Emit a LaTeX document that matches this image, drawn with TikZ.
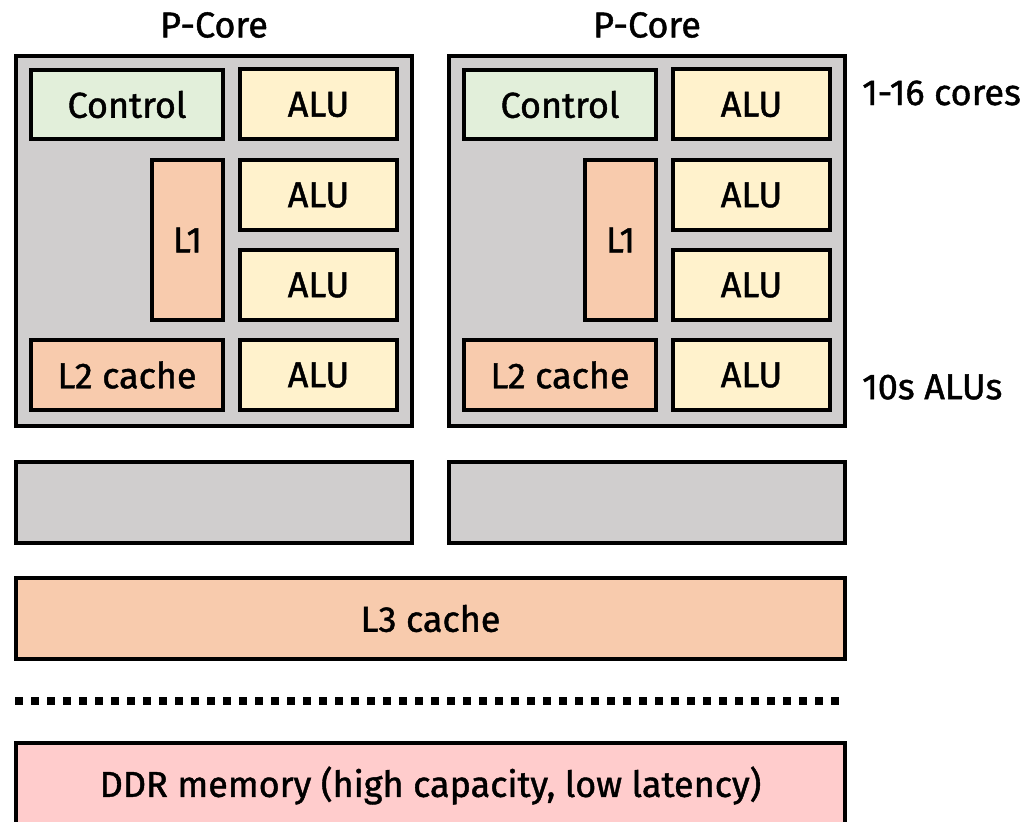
\documentclass[tikz,border=0pt]{standalone}
\usepackage{fontspec}
\setmainfont{Fira Sans}[BoldFont=Fira Sans, BoldFeatures={FakeBold=1.2}]
\definecolor{coregray}{HTML}{D0CECE}
\definecolor{ctrlgreen}{HTML}{E2EFDA}
\definecolor{alucol}{HTML}{FFF2CC}
\definecolor{cachecol}{HTML}{F8CBAD}
\definecolor{ddrcol}{HTML}{FFCCCC}
\begin{document}
\begin{tikzpicture}[x=1pt,y=-1pt,
  blk/.style={draw=black, line width=4pt, inner sep=0pt, font=\fontsize{36}{42}\selectfont\bfseries},
  lbl/.style={inner sep=0pt, font=\fontsize{36}{42}\selectfont\bfseries},
  corebox/.style={blk, fill=coregray, minimum width=396pt, minimum height=370pt},
  ctrlbox/.style={blk, fill=ctrlgreen, minimum width=192pt, minimum height=69pt},
  alubox/.style={blk, fill=alucol, minimum width=157pt, minimum height=70pt},
  l2box/.style={blk, fill=cachecol, minimum width=192pt, minimum height=70pt},
  l1box/.style={blk, fill=cachecol, minimum width=71pt, minimum height=160pt},
  barbox/.style={blk, fill=coregray, minimum width=396pt, minimum height=81pt},
  widebox/.style={blk, minimum width=829pt, minimum height=81pt}]
\useasboundingbox (0,0) rectangle (1032,821);
\clip (0,0) rectangle (1032,821);
% core 1
\node[corebox] (core1) at (214,241) {};
\node[ctrlbox] (ctrl1) at (127,104.5) {Control};
\node[alubox] (alu1a) at (318.5,104.5) {ALU};
\node[l1box] (l11) at (187.5,240) {L1};
\node[alubox] (alu1b) at (318.5,195) {ALU};
\node[alubox] (alu1c) at (318.5,285) {ALU};
\node[l2box] (l21) at (127,375) {L2 cache};
\node[alubox] (alu1d) at (318.5,375) {ALU};
% core 2
\node[corebox] (core2) at (647,241) {};
\node[ctrlbox] (ctrl2) at (560,104.5) {Control};
\node[alubox] (alu2a) at (751.5,104.5) {ALU};
\node[l1box] (l12) at (620.5,240) {L1};
\node[alubox] (alu2b) at (751.5,195) {ALU};
\node[alubox] (alu2c) at (751.5,285) {ALU};
\node[l2box] (l22) at (560,375) {L2 cache};
\node[alubox] (alu2d) at (751.5,375) {ALU};
% bars
\node[barbox] (bar1) at (214,502.5) {};
\node[barbox] (bar2) at (647,502.5) {};
\node[widebox, fill=cachecol] (l3) at (430.5,618.5) {L3 cache};
\node[widebox, fill=ddrcol, minimum height=85pt] (ddr) at (430.5,785.5) {DDR memory (high capacity, low latency)};
% dotted separator
\coordinate (d1) at (15,701);
\coordinate (d2) at (841,701);
\draw[line width=8pt, dash pattern=on 8pt off 8pt] (d1) -- (d2);
% labels
\node[lbl] (pc1) at (214,25) {P-Core};
\node[lbl] (pc2) at (647,25) {P-Core};
\node[lbl, anchor=west] (cores) at (862,93) {1-16 cores};
\node[lbl, anchor=west] (alus) at (862,387) {10s ALUs};
\end{tikzpicture}
\end{document}
